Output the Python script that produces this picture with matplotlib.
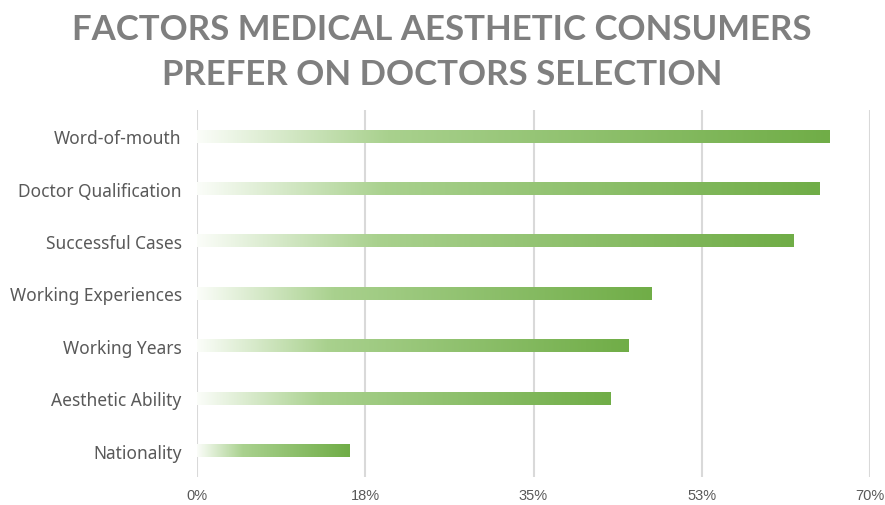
import numpy as np
import matplotlib
matplotlib.use("Agg")
import matplotlib.pyplot as plt
from matplotlib.colors import LinearSegmentedColormap

# 数据
factors = ["Word-of-mouth", "Doctor Qualification", "Successful Cases",
           "Working Experiences", "Working Years", "Aesthetic Ability", "Nationality"]
shares = [65.8, 64.7, 62.0, 47.3, 44.9, 43.0, 15.9]
tick_vals = [0, 17.5, 35, 52.5, 70]
tick_labels = ["0%", "18%", "35%", "53%", "70%"]

title_lines = ["FACTORS MEDICAL AESTHETIC CONSUMERS", "PREFER ON DOCTORS SELECTION"]

# 渐变色：白 -> 浅绿 -> 深绿
grad = LinearSegmentedColormap.from_list(
    "green_grad", [(0.0, "#fbfdf9"), (0.3, "#a9d18e"), (1.0, "#70ad47")])

W, H = 885, 506
fig = plt.figure(figsize=(W / 100, H / 100), dpi=100)
ax = fig.add_axes([197 / W, 1 - 478 / H, (870 - 197) / W, (478 - 111) / H])

y = np.arange(len(factors))
bars = ax.barh(y, shares, height=0.24, color="none", edgecolor="none", zorder=3)

# 每根柱子用 imshow 填充水平渐变
g = np.linspace(0, 1, 256).reshape(1, -1)
for b in bars:
    x0, y0 = b.get_x(), b.get_y()
    w, h = b.get_width(), b.get_height()
    ax.imshow(g, cmap=grad, aspect="auto", extent=(x0, x0 + w, y0 + h, y0),
              zorder=3, interpolation="bilinear")

ax.set_xlim(0, 70)
ax.set_ylim(len(factors) - 0.5, -0.5)

ax.set_xticks(tick_vals)
ax.set_xticklabels(tick_labels)
ax.set_yticks(y)
ax.set_yticklabels(factors)

ax.grid(axis="x", color="#d9d9d9", lw=1.5, zorder=0)
for s in ax.spines.values():
    s.set_visible(False)

ax.tick_params(axis="y", length=0, pad=11, labelsize=12.5, labelcolor="#595959")
ax.tick_params(axis="x", length=0, pad=8, labelsize=10.5, labelcolor="#595959")
for lab in ax.get_yticklabels():
    lab.set_family("Noto Sans")
for lab in ax.get_xticklabels():
    lab.set_family("Liberation Sans")

# 标题分两行
for i, line in enumerate(title_lines):
    fig.text(442 / W, 1 - (30 + 45 * i) / H, line, ha="center", va="center",
             fontsize=25, fontweight="bold", color="#7f7f7f", family="Lato")

fig.savefig("out.png", dpi=100)
